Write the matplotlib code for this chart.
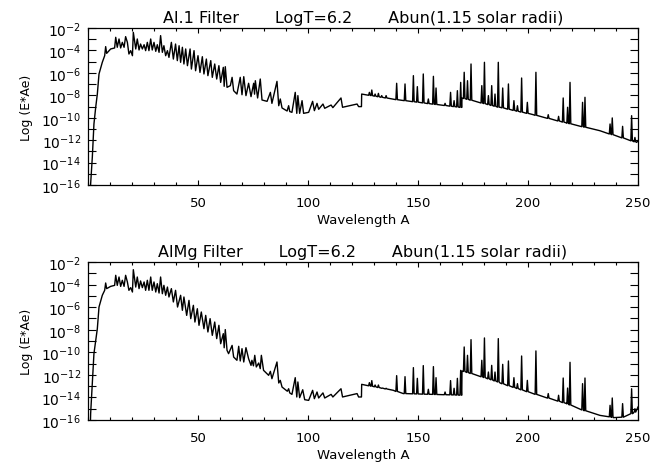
import numpy as np
import matplotlib
matplotlib.use("Agg")
import matplotlib.pyplot as plt
from matplotlib.ticker import MultipleLocator, FixedLocator, FuncFormatter

plt.rcParams['font.family'] = ['DejaVu Sans']
plt.rcParams['mathtext.fontset'] = 'dejavusans'

# ---------------- data (wavelength in Angstrom, log10 of E*Ae) ----------------
titles = ["Al.1 Filter       LogT=6.2       Abun(1.15 solar radii)",
          "AlMg Filter       LogT=6.2       Abun(1.15 solar radii)"]
x_label = "Wavelength A"
y_label = "Log (E*Ae)"
x_ticks = [50, 100, 150, 200, 250]
y_ticks = [-16, -14, -12, -10, -8, -6, -4, -2]

# dense short-wavelength part (< 124.4 A)
forest_wl_top = [1.0, 1.2, 1.97, 2.7, 3.5, 4.24, 5.0, 6.5, 7.58, 8.03, 8.48, 10.3, 12.1, 12.6, 13.3,
                 14.1, 14.85, 15.6, 16.4, 17.1, 17.9, 18.6, 19.4, 20.2, 20.6, 21.7, 22.4, 23.2, 23.9,
                 24.7, 25.5, 26.2, 26.97, 27.7, 28.5, 29.2, 30.0, 30.8, 31.5, 32.3, 33.0, 33.8, 34.5,
                 35.3, 36.1, 36.8, 37.9, 38.8, 39.8, 40.6, 41.4, 42.1, 42.9, 43.6, 44.4, 45.2, 46.4,
                 47.0, 48.2, 48.9, 50.0, 50.9, 51.97, 52.7, 53.8, 54.5, 55.8, 56.5, 57.6, 58.5, 59.5,
                 60.3, 61.5, 61.9, 62.4, 63.2, 64.7, 65.5, 66.2, 67.7, 69.2, 70.0, 70.8, 71.8, 73.0,
                 74.1, 75.3, 75.7, 76.06, 77.1, 78.3, 79.1, 81.4, 82.9, 83.6, 85.9, 86.7, 87.4, 88.2,
                 90.5, 91.2, 91.7, 92.7, 94.2, 94.9, 95.4, 96.2, 97.3, 98.0, 100.3, 102.1, 102.9,
                 104.1, 104.85, 106.8, 107.6, 110.5, 111.3, 115.0, 115.7, 122.3, 123.0, 124.3]
forest_log_top = [-17.0, -15.9, -13.5, -10.56, -9.07, -7.89, -6.1, -5.06, -4.47, -3.66, -4.26, -3.87,
                  -3.78, -2.83, -3.72, -2.98, -3.78, -3.28, -3.72, -2.77, -3.28, -4.32, -4.02, -4.47,
                  -2.39, -3.87, -2.98, -3.96, -3.43, -3.87, -3.49, -4.02, -3.28, -4.02, -2.98, -3.96,
                  -3.28, -4.08, -3.49, -4.17, -2.68, -4.17, -3.58, -4.47, -4.02, -4.62, -3.28, -4.77,
                  -3.43, -4.91, -3.58, -5.06, -3.72, -5.21, -3.87, -5.36, -3.87, -5.66, -4.02, -5.81,
                  -4.47, -5.96, -4.56, -6.1, -4.77, -6.25, -4.91, -6.4, -5.21, -6.55, -5.36, -6.85,
                  -5.51, -7.2, -5.45, -7.29, -7.14, -6.4, -7.59, -7.89, -6.4, -7.95, -6.34, -8.03,
                  -6.93, -8.12, -6.93, -7.9, -6.7, -8.24, -6.55, -8.42, -8.54, -7.74, -8.72, -6.76,
                  -8.93, -8.33, -9.13, -9.4, -8.93, -9.45, -9.52, -7.74, -9.61, -8.03, -9.61, -8.48,
                  -9.61, -9.52, -8.54, -9.37, -8.72, -9.25, -8.78, -9.16, -8.87, -9.1, -8.24, -9.07,
                  -8.78, -9.01, -9.01]

forest_wl_bot = [1.0, 1.2, 1.97, 2.7, 3.5, 4.24, 5.0, 6.5, 7.58, 8.03, 8.48, 10.3, 12.1, 12.6, 13.3,
                 14.1, 14.85, 15.6, 16.4, 17.1, 17.9, 18.6, 19.4, 20.2, 20.6, 21.7, 22.4, 23.2, 23.9,
                 24.7, 25.5, 26.2, 26.97, 27.7, 28.5, 29.2, 30.0, 30.8, 31.5, 32.3, 33.0, 33.8, 34.5,
                 35.3, 36.1, 36.8, 37.9, 38.8, 39.8, 40.7, 42.1, 42.9, 43.6, 44.85, 45.9, 46.7, 47.9,
                 48.6, 49.7, 50.45, 51.5, 52.7, 53.5, 54.5, 55.5, 56.5, 57.6, 58.5, 59.5, 60.3, 61.5,
                 61.9, 62.4, 63.2, 63.9, 65.5, 66.2, 67.7, 68.5, 69.2, 70.0, 70.8, 71.8, 73.0, 74.1,
                 74.5, 75.2, 75.8, 76.5, 77.6, 78.3, 78.8, 79.8, 82.1, 82.9, 83.6, 85.9, 86.7, 87.4,
                 88.2, 90.6, 91.2, 91.7, 92.7, 94.2, 94.9, 95.4, 96.2, 97.6, 98.5, 100.3, 102.1, 102.9,
                 104.1, 104.85, 106.8, 107.6, 110.5, 111.3, 115.0, 115.7, 122.3, 123.0, 124.3]
forest_log_bot = [-17.0, -15.44, -12.78, -10.12, -8.94, -7.91, -5.99, -4.95, -4.51, -3.86, -4.36, -4.16,
                  -4.07, -3.18, -4.07, -3.33, -4.16, -3.62, -4.16, -3.18, -3.77, -4.51, -4.27, -4.66,
                  -2.68, -4.22, -3.33, -4.36, -3.68, -4.27, -3.77, -4.51, -3.62, -4.51, -3.33, -4.51,
                  -3.77, -4.66, -3.92, -4.75, -3.33, -4.81, -4.07, -4.95, -4.22, -5.1, -4.36, -5.54,
                  -4.51, -5.99, -4.95, -6.28, -5.1, -6.73, -5.4, -7.02, -5.84, -7.32, -6.14, -7.61,
                  -6.43, -7.91, -6.73, -8.2, -7.02, -8.5, -7.32, -8.79, -7.61, -9.24, -8.35, -9.6,
                  -7.99, -9.83, -10.12, -9.39, -10.42, -10.71, -9.47, -10.77, -9.68, -10.86, -9.59,
                  -10.57, -11.16, -10.71, -11.2, -10.27, -11.3, -10.95, -11.45, -10.27, -11.6, -12.04,
                  -11.69, -12.34, -10.86, -12.72, -12.49, -13.08, -13.45, -13.23, -13.6, -13.73,
                  -12.25, -13.96, -12.63, -14.02, -13.32, -14.2, -14.26, -13.37, -14.11, -13.52,
                  -14.05, -13.6, -14.05, -13.73, -13.96, -13.23, -13.96, -13.66, -13.96, -13.96]

# continuum knots beyond the 124 A edge
cont_wl_top = [124.4, 138.8, 154.0, 169.9, 170.0, 187.3, 202.4, 217.6, 232.7, 249.4, 250.0]
cont_log_top = [-7.89, -8.35, -8.72, -9.08, -8.24, -9.07, -9.73, -10.47, -11.16, -12.2, -12.05]
cont_wl_bot = [124.4, 138.8, 143.3, 155.0, 169.9, 170.0, 184.2, 187.3, 202.4, 217.6, 225.2,
               232.7, 238.8, 243.3, 247.9, 250.0]
cont_log_bot = [-12.84, -13.37, -13.66, -13.72, -13.8, -11.65, -12.49, -12.72, -13.66, -14.55,
                -15.14, -15.59, -15.79, -15.73, -15.38, -14.85]

# emission lines beyond 124 A
line_wl = [127.9, 129.0, 130.5, 132.0, 133.5, 135.5, 140.3, 144.1, 147.9, 149.7, 152.4, 154.7,
           157.0, 158.2, 162.3, 164.8, 166.4, 167.9, 169.4, 171.0, 172.5, 174.1, 179.0, 180.2,
           182.0, 183.5, 185.0, 186.5, 188.5, 191.1, 193.6, 195.2, 197.1, 199.7, 203.6, 209.2,
           213.9, 216.0, 218.0, 219.1, 224.8, 225.9, 237.3, 238.3, 243.0, 247.1, 248.6]
line_peak_top = [-7.74, -7.53, -7.89, -7.83, -8.03, -8.03, -6.93, -6.99, -6.25, -7.23, -6.1, -8.33,
                 -6.31, -7.35, -8.72, -7.74, -8.48, -7.59, -6.85, -5.95, -6.7, -5.21, -7.14, -5.06,
                 -8.03, -7.14, -7.89, -5.06, -7.35, -6.99, -8.48, -8.93, -6.46, -8.63, -5.95, -9.73,
                 -9.88, -8.24, -9.07, -6.85, -8.63, -8.18, -10.56, -10.02, -10.77, -9.82, -11.76]
line_base_top = [-8.0, -8.03, -8.08, -8.13, -8.18, -8.24, -8.39, -8.48, -8.57, -8.61, -8.68, -8.74,
                 -8.79, -8.82, -8.91, -8.97, -9.01, -9.04, -9.08, -8.29, -8.36, -8.44, -8.69, -8.74,
                 -8.83, -8.91, -8.98, -9.06, -9.12, -9.24, -9.35, -9.42, -9.50, -9.61, -9.79, -10.06,
                 -10.29, -10.39, -10.49, -10.54, -10.80, -10.85, -11.45, -11.51, -11.80, -12.06, -12.15]
line_peak_bot = [-12.69, -12.51, -12.9, -12.9, -13.19, -13.19, -12.07, -12.16, -11.36, -12.31, -11.18,
                 -13.28, -11.27, -12.25, -13.52, -12.51, -13.19, -12.31, -11.6, -9.53, -10.27, -8.88,
                 -10.71, -8.73, -11.75, -11.16, -11.75, -8.79, -11.07, -10.77, -12.25, -12.78, -10.33,
                 -12.49, -9.88, -13.66, -13.81, -12.28, -13.17, -10.89, -12.78, -12.28, -14.7, -14.05,
                 -14.55, -13.23, -15.0]
line_base_bot = [-12.97, -13.01, -13.06, -13.12, -13.17, -13.25, -13.47, -13.66, -13.68, -13.69,
                 -13.71, -13.72, -13.73, -13.74, -13.76, -13.77, -13.78, -13.79, -13.8, -11.7, -11.79,
                 -11.88, -12.17, -12.24, -12.35, -12.44, -12.54, -12.63, -12.79, -12.96, -13.11,
                 -13.21, -13.33, -13.49, -13.73, -14.06, -14.33, -14.46, -14.57, -14.67, -15.11,
                 -15.18, -15.72, -15.77, -15.75, -15.44, -15.3]


def build_series(fwl, flog, cwl, clog, lwl, lpeak, lbase, half_width=0.35):
    xs = list(fwl) + list(cwl)
    ys = list(flog) + list(clog)
    for w, p, b in zip(lwl, lpeak, lbase):
        xs += [w - half_width, w, w + half_width]
        ys += [b, p, b]
    xs = np.asarray(xs)
    ys = np.asarray(ys)
    order = np.argsort(xs, kind="stable")
    return xs[order], ys[order]


series = [
    build_series(forest_wl_top, forest_log_top, cont_wl_top, cont_log_top,
                 line_wl, line_peak_top, line_base_top),
    build_series(forest_wl_bot, forest_log_bot, cont_wl_bot, cont_log_bot,
                 line_wl, line_peak_bot, line_base_bot),
]

W, H = 665, 464
fig = plt.figure(figsize=(W / 100, H / 100), dpi=100)
rects = [[88 / W, 1 - 186 / H, 550 / W, 157 / H],
         [88 / W, 1 - 421 / H, 550 / W, 158 / H]]


def ylab(v, pos):
    iv = int(round(v))
    if iv % 2 == 0:
        return r"$10^{%d}$" % iv
    return ""


for rect, (xs, ys), title in zip(rects, series, titles):
    ax = fig.add_axes(rect)
    ax.plot(xs, ys, color="black", lw=1.0)
    ax.set_xlim(0, 250)
    ax.set_ylim(-16, -2)
    ax.xaxis.set_major_locator(FixedLocator(x_ticks))
    ax.xaxis.set_minor_locator(MultipleLocator(10))
    ax.yaxis.set_major_locator(MultipleLocator(1))
    ax.yaxis.set_major_formatter(FuncFormatter(ylab))
    ax.tick_params(axis="x", which="major", direction="in", length=3.5, width=0.8,
                   top=True, labelsize=9.5, pad=8)
    ax.tick_params(axis="x", which="minor", direction="in", length=2.2, width=0.8, top=True)
    ax.tick_params(axis="y", which="major", direction="in", length=5.8, width=0.8,
                   right=True, labelsize=10, pad=5)
    for sp in ax.spines.values():
        sp.set_linewidth(0.9)
    ax.set_title(title, fontsize=11.5, pad=4)
    ax.set_xlabel(x_label, fontsize=9.5, labelpad=3)
    ax.set_ylabel(y_label, fontsize=9, labelpad=6)

fig.savefig("out.png", dpi=100)
